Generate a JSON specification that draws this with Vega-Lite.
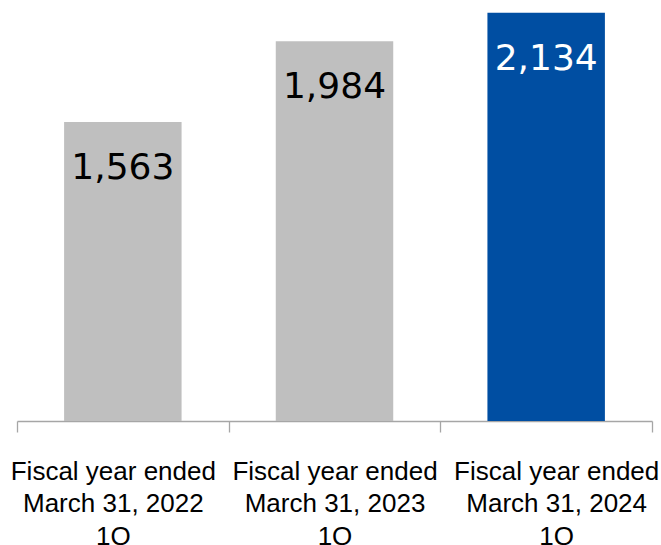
{
  "$schema": "https://vega.github.io/schema/vega-lite/v6.json",
  "autosize": "none",
  "width": 635,
  "height": 421,
  "padding": {"left": 17, "top": 0, "right": 9, "bottom": 124},
  "background": "white",
  "config": {"view": {"stroke": null}},
  "data": {
    "values": [
      {"period": "Fiscal year ended|March 31, 2022|1Q", "value": 1563, "current": "no"},
      {"period": "Fiscal year ended|March 31, 2023|1Q", "value": 1984, "current": "no"},
      {"period": "Fiscal year ended|March 31, 2024|1Q", "value": 2134, "current": "yes"}
    ]
  },
  "encoding": {
    "x": {
      "field": "period",
      "type": "nominal",
      "sort": null,
      "scale": {"paddingInner": 0, "paddingOuter": 0},
      "axis": {
        "title": null,
        "labelAngle": 0,
        "labelExpr": "isString(datum.value) ? split(datum.value, '|') : ''",
        "labelFont": "Liberation Sans",
        "labelFontSize": 26,
        "labelLineHeight": 32.5,
        "labelColor": "#000000",
        "labelBaseline": "top",
        "labelPadding": 26,
        "labelOffset": {
          "condition": [
            {"test": "isString(datum.value) && indexof(datum.value, '2022') >= 0", "value": -10},
            {"test": "isString(datum.value) && indexof(datum.value, '2024') >= 0", "value": 10}
          ],
          "value": 0
        },
        "labelOverlap": false,
        "labelLimit": 0,
        "tickBand": "extent",
        "tickSize": 11,
        "tickColor": "#A6A6A6",
        "domainColor": "#A6A6A6",
        "tickWidth": 1.3,
        "domainWidth": 1.3
      }
    },
    "y": {
      "field": "value",
      "type": "quantitative",
      "scale": {"domain": [0, 2200], "nice": false},
      "axis": null
    }
  },
  "layer": [
    {
      "mark": {"type": "bar", "width": {"band": 0.555}},
      "encoding": {
        "color": {
          "field": "current",
          "type": "nominal",
          "scale": {"domain": ["no", "yes"], "range": ["#BFBFBF", "#004EA2"]},
          "legend": null
        }
      }
    },
    {
      "mark": {"type": "text", "font": "DejaVu Sans", "fontSize": 36, "baseline": "middle", "dy": 46},
      "encoding": {
        "text": {"field": "value", "type": "quantitative", "format": ","},
        "color": {
          "field": "current",
          "type": "nominal",
          "scale": {"domain": ["no", "yes"], "range": ["#000000", "#FFFFFF"]},
          "legend": null
        }
      }
    }
  ],
  "resolve": {"scale": {"color": "independent"}}
}
